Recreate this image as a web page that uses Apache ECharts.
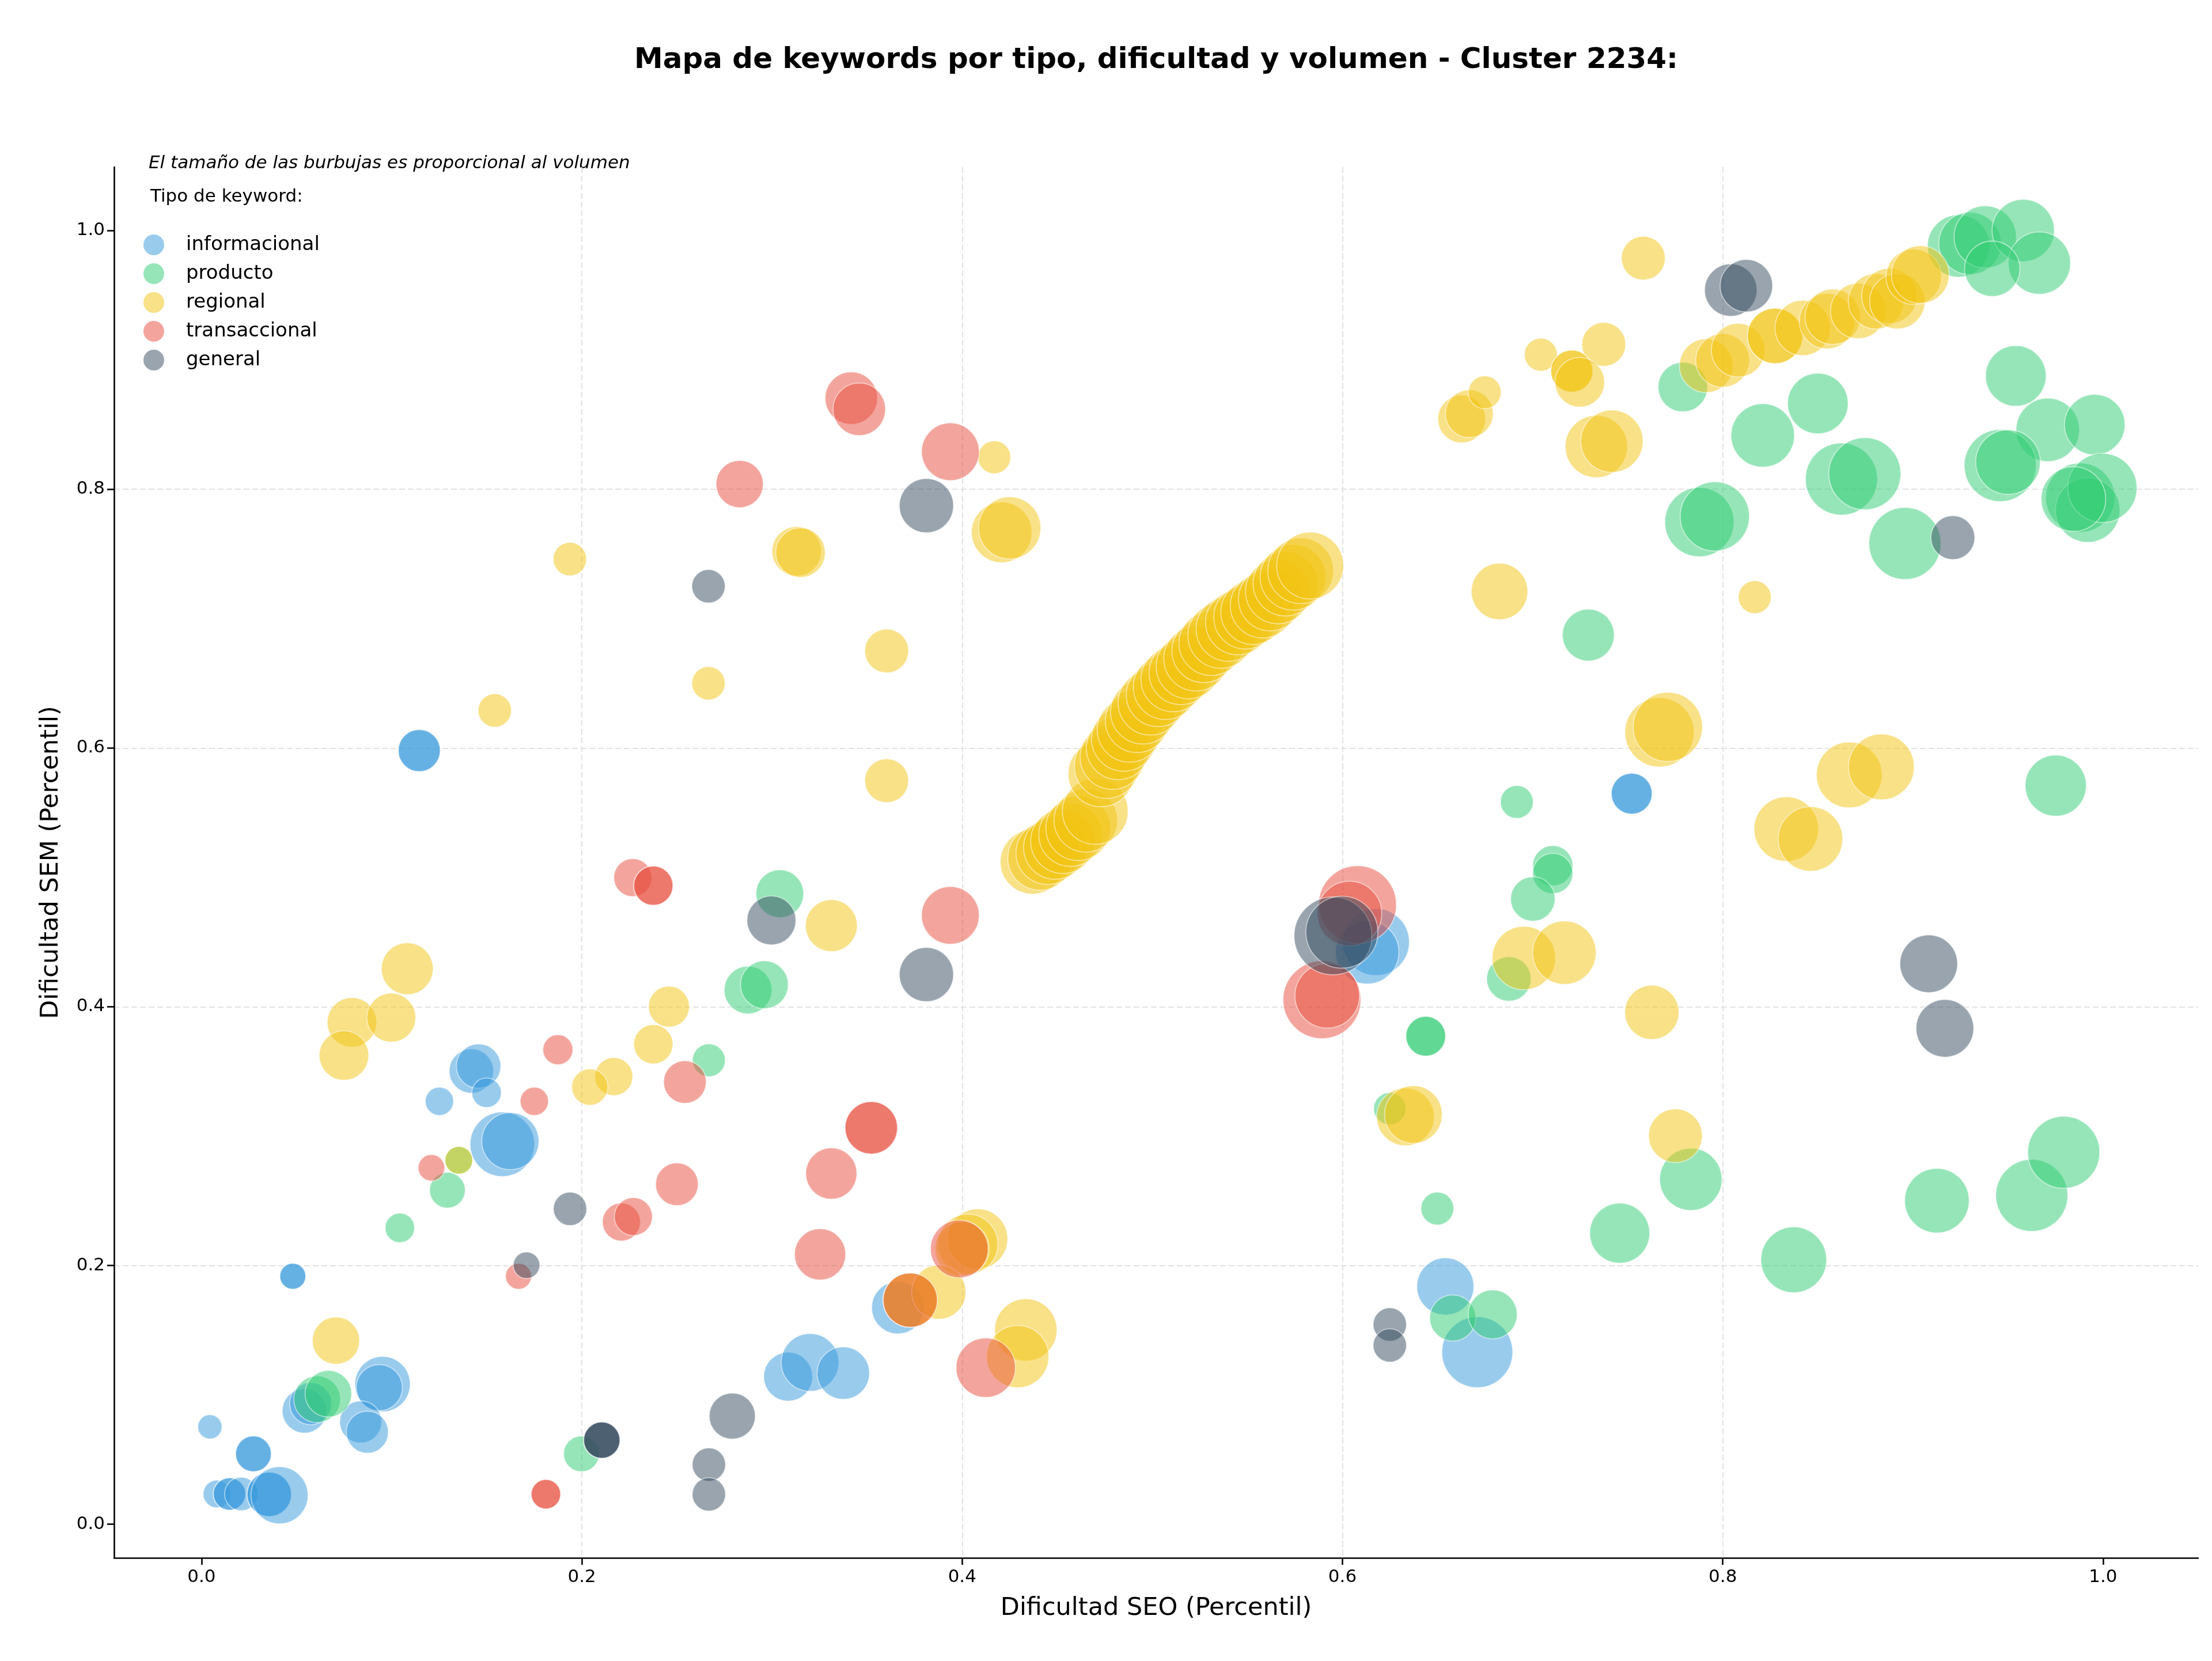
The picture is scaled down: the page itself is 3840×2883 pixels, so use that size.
<!DOCTYPE html>
<html>
<head>
<meta charset="utf-8">
<script src="https://cdn.jsdelivr.net/npm/echarts@6/dist/echarts.min.js"></script>
<style>html,body{margin:0;padding:0;background:#fff}#c{width:3840px;height:2883px}</style>
</head>
<body>
<div id="c"></div>
<script>
// ---- data: [Dificultad SEO, Dificultad SEM, volumen] ----
const tipos = ['informacional', 'producto', 'regional', 'transaccional', 'general'];
const xTicks = [0, 0.2, 0.4, 0.6, 0.8, 1.0];
const yTicks = [0, 0.2, 0.4, 0.6, 0.8, 1.0];

const informacional = [
  [0.1145,0.598,2080],[0.1145,0.598,2080],[0.7521,0.5647,1970],[0.7521,0.5647,1970],
  [0.1419,0.3503,2320],[0.1457,0.3541,2320],[0.1499,0.3335,1020],[0.1251,0.3269,940],
  [0.1582,0.2937,4900],[0.1624,0.2961,3830],[0.0480,0.1917,790],[0.0480,0.1917,790],
  [0.0952,0.1083,3600],[0.0935,0.1056,2500],[0.0837,0.0791,2080],[0.0872,0.0712,2080],
  [0.0541,0.0876,2320],[0.0574,0.0932,2080],[0.0044,0.0753,690],[0.0273,0.0544,1500],[0.0273,0.0544,1500],
  [0.0081,0.0234,900],[0.0147,0.0234,1230],[0.0147,0.0234,1230],[0.0209,0.0234,1310],
  [0.0356,0.0231,2320],[0.0356,0.0231,2320],[0.0410,0.0224,3830],
  [0.3085,0.1141,2820],[0.3200,0.1251,3910],[0.3375,0.1168,3230],
  [0.3662,0.1674,3230],[0.6176,0.4500,5260],[0.6130,0.4421,4730],[0.6541,0.1838,3830],[0.6709,0.1330,5910]
];

const producto = [
  [0.924,0.988,4560],[0.930,0.990,4560],[0.938,0.995,4560],[0.958,1.0,4560],[0.9665,0.9748,4560],[0.9417,0.9704,3600],
  [0.9541,0.8876,4310],[0.8500,0.8663,4310],[0.8210,0.8416,4730],[0.7790,0.8790,2890],
  [0.8624,0.8079,6100],[0.8747,0.8120,6100],[0.9709,0.8459,4730],[0.9956,0.8499,4310],
  [0.9459,0.8183,6100],[0.950,0.821,4900],[0.988,0.7935,5630],[0.9919,0.7839,4900],[0.9996,0.8010,5630],[0.9844,0.7924,4900],
  [0.7877,0.7746,5630],[0.7958,0.7790,5630],[0.8958,0.7581,6100],[0.7293,0.6873,3160],
  [0.6917,0.5583,1270],[0.7106,0.509,1910],[0.7106,0.503,1910],[0.9751,0.5709,4390],
  [0.7001,0.4833,2320],[0.6875,0.4215,2320],[0.6438,0.3772,1860],[0.6438,0.3772,1860],
  [0.6249,0.3212,1230],[0.6499,0.2440,1270],[0.6580,0.1594,2500],[0.679,0.1622,2820],
  [0.7832,0.2666,4560],[0.7458,0.2250,4230],[0.8373,0.2044,5080],[0.9126,0.2501,4900],
  [0.9625,0.2542,6100],[0.9793,0.2875,6100],
  [0.3041,0.4874,2690],[0.2874,0.4129,2690],[0.2960,0.4170,2690],[0.2668,0.3586,1270],
  [0.1293,0.2582,1500],[0.1043,0.2291,1020],[0.1353,0.2813,900],
  [0.0608,0.0966,2560],[0.0667,0.1009,2560],[0.1998,0.0544,1500]
];

const regional = [
  [0.1937,0.746,1310],[0.313,0.752,2890],[0.315,0.751,2890],[0.2666,0.650,1310],[0.1542,0.629,1310],
  [0.4169,0.8247,1270],[0.4208,0.7667,4310],[0.4250,0.7701,4560],[0.3603,0.6750,2260],[0.3603,0.5747,2260],
  [0.6826,0.721,3750],[0.6627,0.8543,2690],[0.6667,0.8584,2690],[0.6748,0.8749,1270],
  [0.7582,0.9786,2260],[0.7043,0.904,1270],[0.7374,0.912,2260],[0.7206,0.8913,2080],[0.7206,0.8913,2080],[0.7248,0.8827,2890],
  [0.7335,0.8330,4560],[0.7417,0.8371,4560],
  [0.7913,0.8955,3380],[0.7999,0.8996,3380],[0.8081,0.9075,3380],[0.8275,0.9185,3600],[0.8275,0.9185,3600],
  [0.8420,0.9247,3600],[0.8548,0.9299,3600],[0.8578,0.9333,3600],[0.8712,0.9378,3600],[0.8806,0.9453,3600],
  [0.8876,0.9494,3600],[0.8918,0.9453,3600],[0.9004,0.9642,3600],[0.9039,0.9659,3910],
  [0.8168,0.7166,1270],[0.7667,0.6121,5630],[0.7711,0.6163,5630],[0.8665,0.5792,5080],[0.8834,0.5854,5080],
  [0.8334,0.5373,4900],[0.8461,0.5297,4900],[0.6954,0.4376,4730],[0.7167,0.4418,4730],
  [0.7627,0.3957,3450],[0.7751,0.3003,3380],[0.6331,0.3149,3910],[0.6373,0.3167,3910],
  [0.3312,0.4627,3160],[0.1082,0.4294,3160],[0.0791,0.3879,2890],[0.0998,0.3916,2820],[0.0749,0.3623,2890],
  [0.2458,0.4001,1970],[0.2376,0.3710,1810],[0.2168,0.3460,1700],[0.2042,0.3379,1550],[0.0707,0.1419,2630],
  [0.4082,0.2206,4230],[0.4030,0.2165,4230],[0.4000,0.2130,3450],
  [0.3727,0.1732,3450],[0.3727,0.1732,3450],[0.3877,0.1794,3450],
  [0.4335,0.1502,4560],[0.4292,0.1296,4560],[0.1353,0.2813,900]
];

const regionalDiagonal = [
  [0.437,0.512,4900],[0.441,0.515,4900],[0.445,0.519,4730],[0.449,0.523,4730],[0.453,0.528,4900],
  [0.457,0.533,4730],[0.461,0.538,4900],[0.465,0.544,4730],[0.470,0.551,5080],[0.473,0.580,5080],
  [0.476,0.586,4900],[0.479,0.593,4900],[0.482,0.600,4730],[0.485,0.607,4900],[0.488,0.614,4900],
  [0.492,0.621,4730],[0.495,0.628,4900],[0.499,0.635,4900],[0.503,0.641,4730],[0.507,0.647,4900],
  [0.511,0.653,4900],[0.515,0.658,4730],[0.519,0.663,4900],[0.523,0.669,4900],[0.527,0.675,4730],
  [0.531,0.681,4900],[0.536,0.687,5080],[0.540,0.692,4900],[0.545,0.697,4900],[0.549,0.701,4730],
  [0.553,0.705,4900],[0.558,0.710,4900],[0.562,0.715,4730],[0.566,0.721,4900],[0.570,0.727,4900],
  [0.574,0.732,5080],[0.578,0.737,5080],[0.583,0.741,5260]
];

const transaccional = [
  [0.283,0.804,2630],[0.3417,0.8704,3230],[0.3459,0.8618,3230],[0.3938,0.829,3910],
  [0.2268,0.4998,1700],[0.2376,0.4936,1810],[0.2376,0.4936,1810],[0.2542,0.3418,2140],
  [0.1874,0.3668,1060],[0.1750,0.3269,940],[0.1209,0.2755,830],[0.2208,0.2336,1700],[0.2271,0.2378,1700],
  [0.2500,0.2628,2140],[0.1667,0.1917,790],[0.1811,0.0232,1020],[0.1811,0.0232,1020],
  [0.3938,0.4706,3910],[0.3522,0.3064,3230],[0.3522,0.3064,3230],[0.3312,0.2711,3090],[0.3253,0.2086,3090],
  [0.3985,0.2128,3910],[0.3727,0.1732,3450],[0.4124,0.1210,4140],
  [0.6079,0.4789,7120],[0.6037,0.4720,4900],[0.5892,0.4054,7120],[0.5920,0.4085,4900]
];

const general = [
  [0.2666,0.725,1310],[0.3812,0.7873,3450],[0.8042,0.9539,3230],[0.8124,0.9573,3230],[0.9210,0.7626,2260],
  [0.2997,0.4667,2820],[0.3812,0.4249,3450],[0.5950,0.4548,7120],[0.5997,0.4576,6100],
  [0.9083,0.4332,3910],[0.9168,0.3833,3910],[0.1938,0.2438,1310],[0.1709,0.2002,830],
  [0.2791,0.0836,2500],[0.2668,0.0461,1310],[0.2668,0.0231,1310],
  [0.2105,0.0650,1550],[0.2105,0.0650,1550],[0.2105,0.0650,1550],[0.6249,0.1544,1310],[0.6249,0.1382,1310]
];

const colores = ['#3498DB', '#2ECC71', '#F1C40F', '#E74C3C', '#34495E'];
const coloresLeyenda = ['#99CBED', '#96E5B8', '#F8E187', '#F3A59D', '#99A4AE'];
const FONT = 'DejaVu Sans';

const seriesData = [informacional, producto, regional.concat(regionalDiagonal), transaccional, general];

const chart = echarts.init(document.getElementById('c'), null, {renderer: 'canvas', width: 3840, height: 2883});

const axisCommon = {
  type: 'value',
  splitNumber: 5,
  axisLine: {show: true, onZero: false, lineStyle: {color: '#000', width: 2.6}},
  splitLine: {show: true, showMinLine: false, showMaxLine: false, lineStyle: {type: [10, 5], color: '#e2e2e2', width: 2}},
  nameLocation: 'middle',
  nameTextStyle: {fontSize: 43, color: '#000', fontFamily: FONT}
};

chart.setOption({
  animation: false,
  backgroundColor: '#fff',
  textStyle: {fontFamily: FONT},
  title: {
    text: 'Mapa de keywords por tipo, dificultad y volumen - Cluster 2234:',
    left: 2007, top: 80, textAlign: 'center', padding: 0,
    textStyle: {fontSize: 50, fontWeight: 'bold', color: '#000', fontFamily: FONT}
  },
  grid: {left: 198, right: 24, top: 290, bottom: 179, containLabel: false},
  xAxis: Object.assign({}, axisCommon, {
    min: -0.046, max: 1.05,
    name: 'Dificultad SEO (Percentil)', nameGap: 66,
    axisTick: {show: true, length: 12, customValues: xTicks, lineStyle: {color: '#000', width: 2.6}},
    axisLabel: {customValues: xTicks, formatter: v => v.toFixed(1), fontSize: 31, color: '#000', margin: 18, fontFamily: FONT}
  }),
  yAxis: Object.assign({}, axisCommon, {
    min: -0.026, max: 1.049,
    name: 'Dificultad SEM (Percentil)', nameGap: 88,
    axisTick: {show: true, length: 12, customValues: yTicks, lineStyle: {color: '#000', width: 2.6}},
    axisLabel: {customValues: yTicks, formatter: v => v.toFixed(1), fontSize: 31, color: '#000', margin: 16, fontFamily: FONT}
  }),
  legend: {
    orient: 'vertical', left: 244, top: 402, itemGap: 14, itemWidth: 36, itemHeight: 36,
    icon: 'circle',
    data: tipos.map((t, i) => ({name: t, itemStyle: {color: coloresLeyenda[i], opacity: 1, borderWidth: 0}})),
    textStyle: {fontSize: 34, color: '#000', fontFamily: FONT, padding: [0, 0, 0, 33], lineHeight: 36},
    selectedMode: false
  },
  graphic: [
    {type: 'text', left: 258, top: 268, style: {text: 'El tamaño de las burbujas es proporcional al volumen', font: 'italic 31px "DejaVu Sans"', fill: '#000'}},
    {type: 'text', left: 261, top: 326, style: {text: 'Tipo de keyword:', font: '31px "DejaVu Sans"', fill: '#000'}}
  ],
  series: tipos.map((t, i) => ({
    name: t,
    type: 'scatter',
    data: seriesData[i],
    symbolSize: v => Math.sqrt(v[2]) * 1.6,
    itemStyle: {color: colores[i], opacity: 0.5, borderColor: '#ffffff', borderWidth: 1.8},
    emphasis: {disabled: true},
    z: 2 + i
  }))
});
</script>
</body>
</html>
